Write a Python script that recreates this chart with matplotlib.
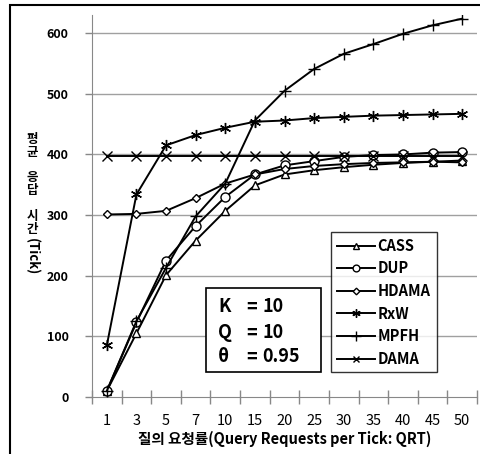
import matplotlib
matplotlib.use("Agg")
import matplotlib.pyplot as plt
from matplotlib.patches import Rectangle

plt.rcParams['font.family'] = ['Noto Sans CJK KR', 'DejaVu Sans']

categories = ['1', '3', '5', '7', '10', '15', '20', '25', '30', '35', '40', '45', '50']
cass  = [10, 105, 201, 258, 307, 349, 367, 374, 379, 383, 386, 388, 390]
dup   = [10, 123, 225, 282, 330, 367, 382, 389, 396, 399, 400, 403, 404]
hdama = [301, 302, 307, 328, 352, 367, 376, 381, 384, 386, 387, 388, 387]
rxw   = [85, 334, 415, 432, 444, 454, 456, 460, 462, 464, 465, 466, 467]
mpfh  = [10, 125, 213, 298, 352, 456, 505, 541, 566, 582, 599, 613, 624]
dama  = [398, 398, 398, 398, 398, 398, 398, 398, 398, 398, 398, 398, 398]
yticks = [0, 100, 200, 300, 400, 500, 600]
params = [('K', '10'), ('Q', '10'), ('θ', '0.95')]

W, H = 480, 454
fig = plt.figure(figsize=(W/100, H/100), dpi=100)
ax = fig.add_axes([92/W, 1-397/H, (477-92)/W, (397-15)/H])

x = list(range(len(categories)))
series = [
    ('CASS', cass, '^', 6),
    ('DUP', dup, 'o', 6.5),
    ('HDAMA', hdama, 'D', 4.5),
    ('RxW', rxw, (6, 2, 0), 8),
    ('MPFH', mpfh, '+', 9),
    ('DAMA', dama, 'x', 6.5),
]
for name, vals, m, ms in series:
    ax.plot(x, vals, color='black', lw=1.4, marker=m, ms=ms, mfc='white',
            mec='black', mew=1.0, label=name, zorder=3)

ax.set_xlim(-0.5, len(categories)-0.5)
ax.set_ylim(0, 630)
ax.set_yticks(yticks)
ax.set_yticklabels([str(v) for v in yticks], fontsize=9, fontweight='bold')
ax.set_xticks(x)
ax.set_xticklabels(categories, fontsize=10.5)
ax.set_xticks([i - 0.5 for i in range(len(categories)+1)], minor=True)
ax.tick_params(axis='x', which='major', length=0, pad=12)
ax.tick_params(axis='x', which='minor', length=10, direction='inout', color='#888888', width=1)
ax.tick_params(axis='y', length=5, direction='out', color='#888888', width=1, pad=12)
for v in yticks[1:]:
    ax.axhline(v, color='#a0a0a0', lw=1, zorder=1)
for s in ['top', 'right']:
    ax.spines[s].set_visible(False)
ax.spines['left'].set_color('#888888')
ax.spines['bottom'].set_color('#888888')

ax.set_xlabel('질의 요청률(Query Requests per Tick: QRT)', fontsize=10.5, fontweight='bold', labelpad=2)

leg = ax.legend(loc='upper left', bbox_to_anchor=((331-92)/(477-92), (397-232)/(397-15)),
                frameon=True, fancybox=False, edgecolor='black',
                prop={'weight': 'bold', 'size': 10.5}, handlelength=2.6, handletextpad=0.2,
                labelspacing=0.45, borderpad=0.4, markerscale=0.75, borderaxespad=0)
leg.get_frame().set_linewidth(1.0)
leg.set_zorder(5)

# parameter box
fig.patches.append(Rectangle((206/W, 1-372/H), (321-206)/W, (372-288)/H, transform=fig.transFigure,
                             facecolor='white', edgecolor='black', lw=1.2, zorder=4))
for (k, v), yy in zip(params, [307, 333, 357]):
    fig.text(218/W, 1-yy/H, k, fontsize=13, fontweight='bold', va='center', ha='left', zorder=6)
    fig.text(246/W, 1-yy/H, '=', fontsize=13, fontweight='bold', va='center', ha='left', zorder=6)
    fig.text(262/W, 1-yy/H, v, fontsize=13, fontweight='bold', va='center', ha='left', zorder=6)

# y label (stacked Korean, rotated Latin)
fig.text(32/W, 1-133/H, '평\n균\n\n응\n답\n\n시\n간', fontsize=9, fontweight='bold',
         ha='center', va='top', linespacing=0.98, multialignment='center')
fig.text(32/W, 1-257/H, '(Tick)', fontsize=9.5, fontweight='bold', ha='center', va='center', rotation=270)

# outer border
fig.patches.append(Rectangle((10/W, -0.05), 1.1, 1-5/H+0.05, transform=fig.transFigure,
                             facecolor='none', edgecolor='black', lw=1.5))

fig.savefig('out.png', dpi=100)
